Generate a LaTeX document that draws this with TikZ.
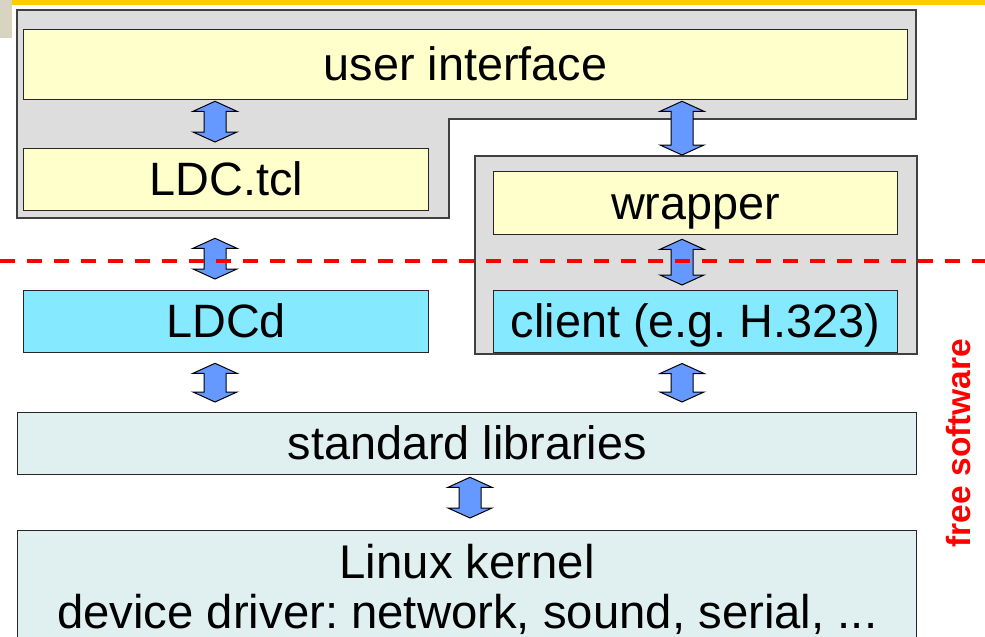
\documentclass[tikz,border=0pt]{standalone}
\usepackage{fontspec}
\setmainfont{Liberation Sans}
\usetikzlibrary{calc}
\frenchspacing

\definecolor{barGold}{HTML}{FFCC00}
\definecolor{tabBeige}{HTML}{D8D4C0}
\definecolor{paneFill}{HTML}{DDDDDD}
\definecolor{paneEdge}{HTML}{404040}
\definecolor{ivory}{HTML}{FFFFCC}
\definecolor{aqua}{HTML}{85EAFF}
\definecolor{pale}{HTML}{E0F0F0}
\definecolor{arrowBlue}{HTML}{6699FF}

\tikzset{
  panel/.style={draw=paneEdge, line width=1.5pt, fill=paneFill},
  layer/.style={draw=black!85, line width=1.3pt, inner sep=0pt, anchor=north west,
    font=\fontsize{46.8}{50}\selectfont},
  onerow/.style={text height=42.3pt, text depth=9.9pt},
  ybox/.style={layer, onerow, fill=ivory},
  cbox/.style={layer, onerow, fill=aqua},
  lbox/.style={layer, fill=pale},
  blockarrow/.style={draw=black, line width=1pt, fill=arrowBlue, line join=miter},
  freeline/.style={draw=red, line width=3.2pt, dash pattern=on 15pt off 12pt},
}

% two-headed block arrow in column #1, from below node #2 to above node #3,
% leaving gaps #4 (top) and #5 (bottom)
\newcommand\twoway[5]{%
  \draw[blockarrow] let \p1=(#1 |- #2.south), \p2=(#1 |- #3.north) in
    (\x1,{\y1-#4})
    -- ({\x1+22pt},{\y1-#4-10pt}) -- ({\x1+11pt},{\y1-#4-10pt})
    -- ({\x1+11pt},{\y2+#5+10pt}) -- ({\x1+22pt},{\y2+#5+10pt})
    -- (\x1,{\y2+#5})
    -- ({\x1-22pt},{\y2+#5+10pt}) -- ({\x1-11pt},{\y2+#5+10pt})
    -- ({\x1-11pt},{\y1-#4-10pt}) -- ({\x1-22pt},{\y1-#4-10pt})
    -- cycle;}

\begin{document}
\begin{tikzpicture}[x=1pt, y=-1pt]
  \useasboundingbox (0,0) rectangle (985,637);
  \clip (0,0) rectangle (985,637);
  \fill[white] (0,0) rectangle (985,637);

  % slide header decoration
  \fill[barGold] (12,0) rectangle (985,5);
  \fill[tabBeige] (0,0) rectangle (12,38);

  % application panel (L-shaped) and VoIP panel
  \draw[panel] (17,10) -- (916,10) -- (916,119) -- (449,119) -- (449,218) -- (17,218) -- cycle;
  \node[panel, anchor=north west, minimum width=442pt, minimum height=198pt, inner sep=0pt] (voip) at (474,155) {};

  % layers
  \node[ybox, minimum width=884pt, minimum height=70pt] (ui) at (23,29) {user interface};
  \node[ybox, minimum width=405pt, minimum height=62pt] (tcl) at (23,148) {LDC.tcl};
  \node[ybox, minimum width=404pt, minimum height=63pt] (wrap) at (493,171) {wrapper};
  \node[cbox, minimum width=405pt, minimum height=62pt] (ldcd) at (23,290) {LDCd};
  \node[cbox, minimum width=404pt, minimum height=62pt] (client) at (493,290) {client (e.g. H.323)};
  \node[lbox, onerow, minimum width=899pt, minimum height=62pt] (std) at (17,412) {standard libraries};
  \node[lbox, align=center, minimum width=899pt, minimum height=118pt,
        font=\fontsize{47.3}{50}\selectfont] (kern) at (17,530)
    {Linux kernel\\device driver: network, sound, serial, ...};

  % arrow columns
  \coordinate (lcol) at (215,0);
  \coordinate (rcol) at (682,0);
  \coordinate (mcol) at (470,0);

  \twoway{lcol}{ui}{tcl}{1pt}{6pt}
  \twoway{rcol}{ui}{voip}{1pt}{0pt}
  \twoway{lcol}{tcl}{ldcd}{27pt}{11pt}
  \twoway{rcol}{wrap}{client}{4pt}{5pt}
  \twoway{lcol}{ldcd}{std}{10pt}{10pt}
  \twoway{rcol}{voip}{std}{9pt}{10pt}
  \twoway{mcol}{std}{kern}{2pt}{12pt}

  % free software boundary
  \coordinate (fl) at (0,261);
  \coordinate (fr) at (985,261);
  \draw[freeline] (fl) -- (fr);
  \node[text=red, font=\fontsize{33.5}{36}\selectfont\bfseries, rotate=90, anchor=base, inner sep=0pt]
    (free) at (970,443) {free software};
\end{tikzpicture}
\end{document}
